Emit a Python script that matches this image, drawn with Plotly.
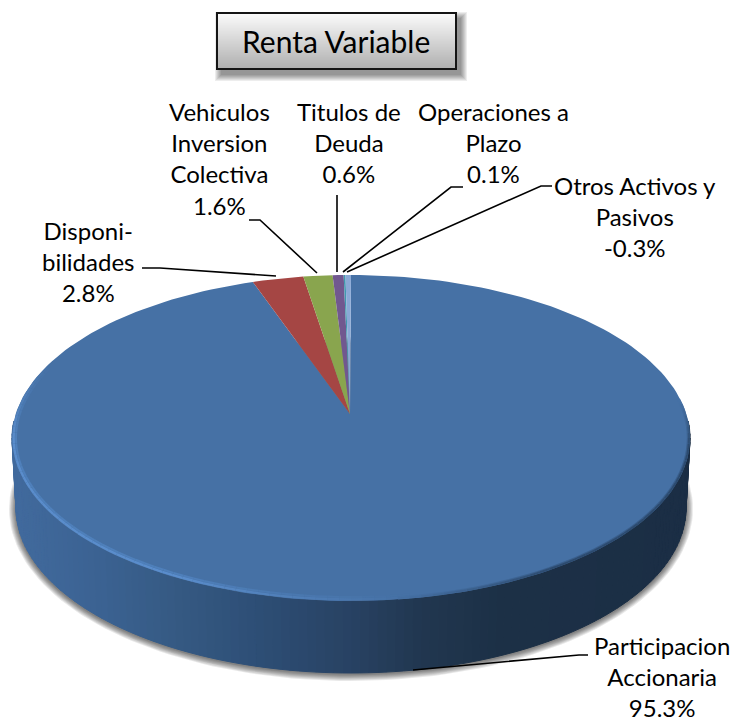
import math
import plotly.graph_objects as go

# ---- data (clockwise from 12 o'clock) ----
categories = ["Participacion Accionaria", "Disponibilidades", "Vehiculos Inversion Colectiva",
              "Titulos de Deuda", "Operaciones a Plazo", "Otros Activos y Pasivos"]
values = [95.3, 2.8, 1.6, 0.6, 0.1, -0.3]
label_texts = ["Participacion<br>Accionaria<br>95.3%", "Disponi-<br>bilidades<br>2.8%",
               "Vehiculos<br>Inversion<br>Colectiva<br>1.6%", "Titulos de<br>Deuda<br>0.6%",
               "Operaciones a<br>Plazo<br>0.1%", "Otros Activos y<br>Pasivos<br>-0.3%"]
slice_colors = ["#4671a5", "#a54644", "#89a54e", "#71588f", "#4198af", "#8ba9d6"]
title_text = "Renta Variable"

# ---- drawing set-up (pixel space of the 736x721 page) ----
W, H = 736, 721
CX, CY, A, B = 351, 438, 339, 163      # top face ellipse
APEX = (350, 414)                      # where the wedges meet (perspective)
BCY, BA, BB = 508, 335, 165            # lower rim ellipse
PERSP = 0.87                           # perspective squeeze of angles near the back
FONT = "Lato"

def mix(c1, c2, t):
    t = max(0, min(1, t))
    a = [int(c1[i:i + 2], 16) for i in (1, 3, 5)]
    b = [int(c2[i:i + 2], 16) for i in (1, 3, 5)]
    return "#%02x%02x%02x" % tuple(round(a[i] + (b[i] - a[i]) * t) for i in range(3))

def persp(theta):
    """map a true pie angle (deg, measured from the back) to its ellipse parameter"""
    t = ((theta + 180) % 360) - 180
    if abs(abs(t) - 180) < 1e-9:
        return 180.0 if t > 0 else -180.0
    return 2 * math.degrees(math.atan(PERSP * math.tan(math.radians(t) / 2)))

def top_pt(phi, inset=0.0):
    r = math.radians(phi)
    return CX + (A - inset) * math.sin(r), CY - (B - inset) * math.cos(r)

def bot_pt(phi, grow=0.0, cy=BCY):
    r = math.radians(phi)
    return CX + (BA + grow) * math.sin(r), cy - (BB + grow) * math.cos(r)

fig = go.Figure()

def poly(xs, ys, color, line=0):
    fig.add_trace(go.Scatter(x=xs, y=ys, mode="lines", fill="toself", fillcolor=color,
                             line=dict(color=color, width=line), hoverinfo="skip", showlegend=False))

# soft shadow under the disc
for g in (7, 6, 5, 4, 3, 2, 1):
    ph = [i * 2 for i in range(181)]
    pts = [bot_pt(p, g, BCY + 1) for p in ph]
    poly([p[0] for p in pts], [p[1] for p in pts], "rgba(0,0,0,0.09)")

# side wall shaded by x position
wall_stops = [(15, "#416a9d"), (100, "#3b6292"), (180, "#355982"), (250, "#2e4f77"),
              (350, "#284263"), (420, "#213750"), (500, "#1c3046"), (690, "#1b2e45")]

def wall_color(x):
    for (x0, c0), (x1, c1) in zip(wall_stops, wall_stops[1:]):
        if x <= x1:
            return mix(c0, c1, (x - x0) / (x1 - x0))
    return wall_stops[-1][1]

STEP = 1.5
p0 = 84.0
while p0 < 276:
    p1 = p0 + STEP
    t0, t1, b0, b1 = top_pt(p0), top_pt(p1), bot_pt(p0), bot_pt(p1)
    poly([t0[0], t1[0], b1[0], b0[0], t0[0]], [t0[1], t1[1], b1[1], b0[1], t0[1]],
         wall_color((t0[0] + t1[0]) / 2), 1)
    p0 = p1

# top face wedges, derived from the values (clockwise from 12 o'clock)
sizes = [abs(v) for v in values]
total = sum(sizes)
start = 0.0
for size, color in zip(sizes, slice_colors):
    end = start + size / total * 360
    p0, p1 = persp(start), persp(end)
    if p1 < p0:
        p1 += 360
    n = max(2, int((p1 - p0) / 1.5))
    pts = [top_pt(p0 + (p1 - p0) * i / n) for i in range(n + 1)]
    poly([APEX[0]] + [p[0] for p in pts] + [APEX[0]], [APEX[1]] + [p[1] for p in pts] + [APEX[1]], color)
    start = end

# bevel: lit rim on the left/front, soft dark edge on the right/front
FACE = slice_colors[0]
def rim_seg(p0, p1, inset, color, width):
    a, b = top_pt(p0, inset), top_pt(p1, inset)
    fig.add_trace(go.Scatter(x=[a[0], b[0]], y=[a[1], b[1]], mode="lines",
                             line=dict(color=color, width=width), hoverinfo="skip", showlegend=False))

for p in range(170, 296, 2):
    t = min((p - 170) / 40, 1) * min((296 - p) / 28, 1)
    rim_seg(p, p + 2, 4, mix(FACE, "#4f80bb", t), 2)
    rim_seg(p, p + 2, 1.6, mix(FACE, "#5a8dcc", t), 2.4)
for p in range(76, 172, 2):
    t = min((p - 76) / 16, 1) * min((172 - p) / 30, 1)
    rim_seg(p, p + 2, 2.4, mix(FACE, "#3a5f8c", t), 1.5)
    rim_seg(p, p + 2, 1.0, mix(FACE, "#2c4a6e", t), 2)

# ---- title box with shadow and vertical gradient ----
BX0, BX1, BY0, BY1 = 217, 456, 13, 69
shapes = []
for g in (6, 5, 4, 3, 2, 1, 0):
    shapes.append(dict(type="rect", xref="x", yref="y", x0=BX0 + 4 - g, x1=BX1 + 5 + g, y0=BY0 + 5 - g, y1=BY1 + 6 + g,
                       fillcolor="rgba(0,0,0,0.07)", line=dict(width=0)))
for y in range(BY0, BY1):
    c = mix("#fbfbfb", "#aeaeae", (y - BY0) / (BY1 - BY0))
    shapes.append(dict(type="rect", xref="x", yref="y", x0=BX0, x1=BX1, y0=y, y1=y + 1,
                       fillcolor=c, line=dict(width=0)))
shapes.append(dict(type="rect", xref="x", yref="y", x0=BX0, x1=BX1, y0=BY0, y1=BY1,
                   line=dict(color="#151515", width=2), fillcolor="rgba(0,0,0,0)"))

# ---- leader lines ----
leaders = [
    [(588, 655), (579, 655), (413, 670)],
    [(142, 268), (160, 268), (276, 276)],
    [(249, 220), (260, 220), (317, 273)],
    [(337, 195), (337, 272)],
    [(463, 187), (451, 187), (343, 272)],
    [(552, 186), (541, 186), (347, 272)],
]
for pts in leaders:
    path = "M " + " L ".join(f"{x} {y}" for x, y in pts)
    shapes.append(dict(type="path", xref="x", yref="y", path=path, line=dict(color="#000000", width=1.6)))

# ---- text ----
label_pos = [(662, 676), (88, 261), (219, 158), (349, 142), (493, 142), (635, 216)]
annotations = [dict(x=x, y=y, xref="x", yref="y", text=t, showarrow=False, align="center",
                    font=dict(family=FONT, size=24, color="#000000"))
               for t, (x, y) in zip(label_texts, label_pos)]
annotations.append(dict(x=336, y=41, xref="x", yref="y", text=title_text, showarrow=False,
                        font=dict(family=FONT, size=30, color="#000000")))

fig.update_layout(width=W, height=H, margin=dict(l=0, r=0, t=0, b=0), autosize=False,
                  paper_bgcolor="white", plot_bgcolor="white", showlegend=False,
                  xaxis=dict(range=[0, W], visible=False, fixedrange=True),
                  yaxis=dict(range=[H, 0], visible=False, fixedrange=True),
                  shapes=shapes, annotations=annotations)
fig.write_html("out.html", config=dict(displayModeBar=False),
               post_script="document.documentElement.style.overflow='hidden';document.body.style.margin='0';document.body.style.overflow='hidden';")
